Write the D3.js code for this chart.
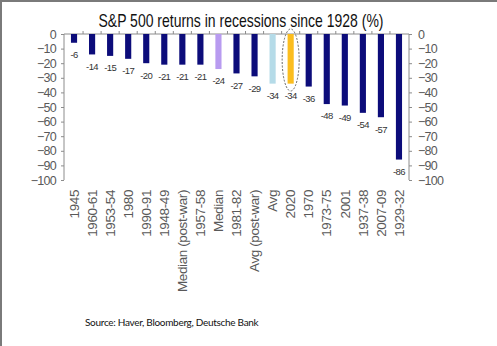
<!DOCTYPE html>
<html>
<head>
<meta charset="utf-8">
<script src="https://cdn.jsdelivr.net/npm/d3@7"></script>
<style>
  body { margin: 0; background: #fff; }
  svg { display: block; font-family: "Liberation Sans", Arial, sans-serif; }
</style>
</head>
<body>
<svg id="chart" width="497" height="346"></svg>
<script>
// recessions ordered from mildest to worst drawdown
const categories = ["1945", "1960-61", "1953-54", "1980", "1990-91", "1948-49", "Median (post-war)",
  "1957-58", "Median", "1981-82", "Avg (post-war)", "Avg", "2020", "1970", "1973-75", "2001",
  "1937-38", "2007-09", "1929-32"];
const returns = [-6, -14, -15, -17, -20, -21, -21, -21, -24, -27, -29, -34, -34, -36, -48, -49, -54, -57, -86];
const yTicks = [0, -10, -20, -30, -40, -50, -60, -70, -80, -90, -100];

const highlight = { "Median": "#b89bf0", "Avg": "#b5dbe8", "2020": "#fbbd1f" };
const navy = "#0c0c7a";
const grey = "#8c8c8c";

const svg = d3.select("#chart");

// frame edges
svg.append("rect").attr("x", 0).attr("y", 0).attr("width", 497).attr("height", 2).attr("fill", "#7a7a7a");
svg.append("rect").attr("x", 0).attr("y", 0).attr("width", 2).attr("height", 346).attr("fill", "#7a7a7a");

const x = d3.scaleBand()
  .domain(categories)
  .range([65, 408])
  .paddingInner(0.66)
  .paddingOuter(0.33);

const y = d3.scaleLinear()
  .domain([-100, 0])
  .range([180, 34]);

const left = 64, right = 409;

// title, squeezed horizontally
svg.append("text")
  .attr("transform", "translate(241,27) scale(0.8,1)")
  .attr("text-anchor", "middle")
  .style("font-size", "17.5px")
  .attr("fill", "#111")
  .text("S&P 500 returns in recessions since 1928 (%)");

// left axis
const yl = svg.append("g").attr("transform", `translate(${left},0)`)
  .call(d3.axisLeft(y).tickValues(yTicks).tickSize(3).tickPadding(5));
// right axis
const yr = svg.append("g").attr("transform", `translate(${right},0)`)
  .call(d3.axisRight(y).tickValues(yTicks).tickSize(3).tickPadding(6));

[yl, yr].forEach(g => {
  g.select(".domain").attr("stroke", grey).attr("d", `M0,${y(0)}V${y(-100)}`);
  g.selectAll(".tick line").attr("stroke", grey);
  g.selectAll(".tick text")
    .attr("fill", "#595959")
    .style("font-size", "12.5px")
    .style("letter-spacing", "-0.7px")
    .attr("font-family", "Liberation Sans, Arial, sans-serif");
});

// zero line with small category ticks
svg.append("line")
  .attr("x1", left).attr("x2", right)
  .attr("y1", y(0)).attr("y2", y(0))
  .attr("stroke", grey);
const step = x.step();
svg.append("g").selectAll("line")
  .data(d3.range(1, categories.length))
  .join("line")
  .attr("x1", i => x(categories[i]) - step * x.paddingInner() / 2)
  .attr("x2", i => x(categories[i]) - step * x.paddingInner() / 2)
  .attr("y1", y(0)).attr("y2", y(0) - 3)
  .attr("stroke", grey);

// bars
svg.append("g").selectAll("rect")
  .data(categories)
  .join("rect")
  .attr("x", d => x(d))
  .attr("width", x.bandwidth())
  .attr("y", y(0))
  .attr("height", (d, i) => y(returns[i]) - y(0))
  .attr("fill", d => highlight[d] || navy);

// value labels under each bar
svg.append("g").selectAll("text")
  .data(categories)
  .join("text")
  .attr("x", d => x(d) + x.bandwidth() / 2)
  .attr("y", (d, i) => y(returns[i]) + 12)
  .attr("dy", "0.35em")
  .attr("text-anchor", "middle")
  .attr("fill", "#333")
  .style("font-size", "9.5px")
  .style("letter-spacing", "-0.6px")
  .text((d, i) => returns[i]);

// category labels
svg.append("g").selectAll("text")
  .data(categories)
  .join("text")
  .attr("transform", d => `translate(${x(d) + x.bandwidth() / 2},190) rotate(-90)`)
  .attr("dy", "0.35em")
  .attr("text-anchor", "end")
  .attr("fill", "#595959")
  .style("font-size", "13.5px")
  .style("letter-spacing", "-0.4px")
  .text(d => d);

// dashed ring around 2020
const cx = x("2020") + x.bandwidth() / 2;
svg.append("ellipse")
  .attr("cx", cx).attr("cy", 60)
  .attr("rx", 8.5).attr("ry", 31)
  .attr("fill", "none")
  .attr("stroke", "#555")
  .attr("stroke-width", 0.9)
  .attr("stroke-dasharray", "2,1.5");

// source note
svg.append("text")
  .attr("x", 85).attr("y", 326)
  .attr("font-family", "Lato, 'Open Sans', sans-serif")
  .style("font-size", "10px")
  .style("letter-spacing", "-0.3px")
  .attr("fill", "#111")
  .text("Source: Haver, Bloomberg, Deutsche Bank");
</script>
</body>
</html>
